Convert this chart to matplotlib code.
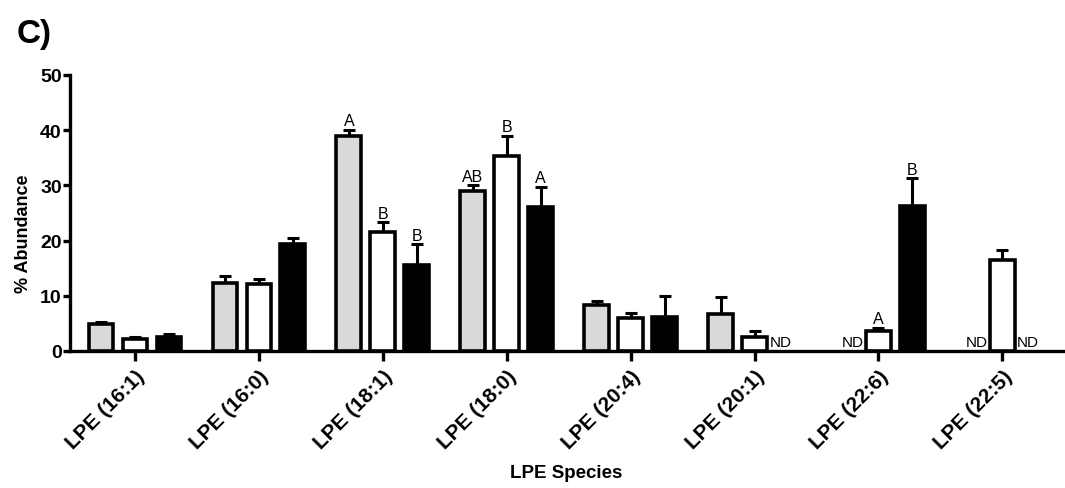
import matplotlib.pyplot as plt
import numpy as np

plt.rcParams['font.family'] = ['Liberation Sans', 'DejaVu Sans']

species = ['LPE (16:1)', 'LPE (16:0)', 'LPE (18:1)', 'LPE (18:0)',
           'LPE (20:4)', 'LPE (20:1)', 'LPE (22:6)', 'LPE (22:5)']

# mean % abundance and SEM per group (None = not detected)
gray_mean = [4.9, 12.3, 38.9, 28.9, 8.4, 6.7, None, None]
gray_err = [0.4, 1.3, 1.2, 1.1, 0.6, 3.0, None, None]
white_mean = [2.2, 12.1, 21.6, 35.3, 6.0, 2.5, 3.7, 16.5]
white_err = [0.3, 0.9, 1.7, 3.7, 0.8, 1.2, 0.5, 1.8]
black_mean = [2.6, 19.3, 15.5, 26.1, 6.2, None, 26.3, None]
black_err = [0.5, 1.2, 3.8, 3.6, 3.8, None, 5.0, None]

# significance letters: (species index, series index, letter)
letters = [(2, 0, 'A'), (2, 1, 'B'), (2, 2, 'B'),
           (3, 0, 'AB'), (3, 1, 'B'), (3, 2, 'A'),
           (6, 1, 'A'), (6, 2, 'B')]

series = [(gray_mean, gray_err, '#d9d9d9'),
          (white_mean, white_err, 'white'),
          (black_mean, black_err, 'black')]

fig = plt.figure(figsize=(10.65, 4.89), dpi=100)
ax = fig.add_axes([70 / 1065, 1 - 352 / 489, 993 / 1065, 276 / 489])

x = np.arange(len(species))
offset = 0.274
width = 0.2

for s, (means, errs, color) in enumerate(series):
    pos = x + (s - 1) * offset
    for i, (m, e) in enumerate(zip(means, errs)):
        if m is None:
            # "ND" sits nudged toward the middle of the group
            ax.text(pos[i] - (s - 1) * 0.065, 0.3, 'ND', ha='center',
                    va='bottom', fontsize=11)
            continue
        ax.bar(pos[i], m, width=width, color=color, edgecolor='black',
               linewidth=2.6, zorder=3)
        ax.errorbar(pos[i], m, yerr=[[0], [e]], fmt='none', ecolor='black',
                    elinewidth=2.2, capsize=4.3, capthick=2.2, zorder=2)

for i, s, txt in letters:
    means, errs, _ = series[s]
    ax.text(x[i] + (s - 1) * offset, means[i] + errs[i] + 0.3, txt,
            ha='center', va='bottom', fontsize=11.5)

ax.set_xlim(-0.525, 7.49)
ax.set_ylim(0, 50)
ax.set_yticks([0, 10, 20, 30, 40, 50])
ax.set_xticks(x)
ax.set_xticklabels(species, rotation=45, ha='right', rotation_mode='anchor',
                   fontsize=15, fontweight='bold')
for lbl in ax.get_yticklabels():
    lbl.set_fontweight('bold')
    lbl.set_fontsize(14)

for side in ['top', 'right']:
    ax.spines[side].set_visible(False)
for side in ['left', 'bottom']:
    ax.spines[side].set_linewidth(2.4)
ax.tick_params(axis='y', length=5, width=2.4, pad=1)
ax.tick_params(axis='x', length=7, width=2.4, pad=4)

ax.set_ylabel('% Abundance', fontsize=13, fontweight='bold', va='center')
ax.yaxis.set_label_coords(-0.047, 0.43)
ax.set_xlabel('LPE Species', fontsize=13.5, fontweight='bold', va='center')
ax.xaxis.set_label_coords(0.5, -0.44)

fig.text(17 / 1065, 1 - 43 / 489, 'C)', fontsize=24, fontweight='bold',
         va='baseline')

fig.savefig('out.png', dpi=100)
